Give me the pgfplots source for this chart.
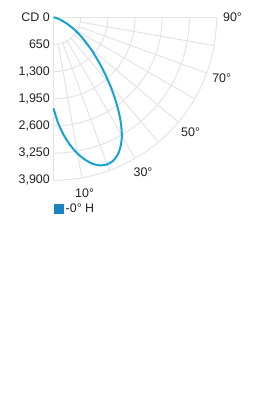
\documentclass[border=0pt]{standalone}
\usepackage{pgfplots}
\pgfplotsset{compat=1.18}
\usepackage{pgfplotstable}
\usepackage{fontspec}
\setmainfont{Liberation Sans}
\definecolor{curveblue}{RGB}{20,163,210}
\definecolor{legblue}{RGB}{26,132,194}
\definecolor{gridc}{RGB}{228,228,228}
\definecolor{txt}{RGB}{34,34,34}
\pgfplotstableread{
a r
0 2180
2.5 2530
5 2830
7.5 3090
10 3310
12.5 3490
15 3630
17.5 3715
20 3745
22.5 3720
25 3630
27.5 3480
30 3270
32.5 3000
35 2700
37.5 2390
40 2090
42.5 1810
45 1560
47.5 1340
50 1150
55 820
60 560
65 340
70 180
75 80
80 30
85 8
90 0
}\cddata
\begin{document}
\begin{tikzpicture}[font=\fontsize{12.5}{14}\selectfont, text=txt]
\useasboundingbox (-53.5bp,17.3bp) rectangle (215.5bp,-401.7bp);
% grid
\begin{scope}[draw=gridc, line width=1bp]
\foreach \k in {1,...,6} {
  \draw (0,-27.1667*\k bp) arc[start angle=-90, end angle=0, radius=27.1667*\k bp];
}
\foreach \a in {10,20,...,80} {
  \draw (\a-90:27.1667bp) -- (\a-90:163bp);
}
\draw (0,0) -- (0,-163bp);
\draw (0,0) -- (163bp,0);
\end{scope}
% radial labels
\foreach \k/\lab in {0/CD 0,1/650,2/{1,300},3/{1,950},4/{2,600},5/{3,250},6/{3,900}} {
  \node[anchor=east, inner sep=0] at (-3.5bp,-27.1667*\k bp) {\lab};
}
% angle labels
\foreach \a in {10,30,50,70,90} {
  \node[inner sep=0] at (\a-90:179bp) {\a°};
}
\begin{axis}[
  at={(0,0)}, anchor=north west,
  x=0.0417949bp, y=0.0417949bp,
  xmin=0, xmax=3900, ymin=-3900, ymax=0,
  axis lines=none, clip=false,
  legend style={at={(axis cs:0,-4587)}, anchor=west, draw=none, fill=none,
    inner sep=0pt, font=\fontsize{12.5}{14}\selectfont, text=txt,
    nodes={inner sep=2pt}},
  legend cell align=left,
  legend image code/.code={\fill[legblue] (0bp,-4bp) rectangle (8bp,4bp);},
]
\addplot[curveblue, line width=2bp, smooth, data cs=polar] table[x expr=\thisrow{a}-90, y=r] {\cddata};
\addlegendentry{-0° H}
\end{axis}
\end{tikzpicture}
\end{document}
